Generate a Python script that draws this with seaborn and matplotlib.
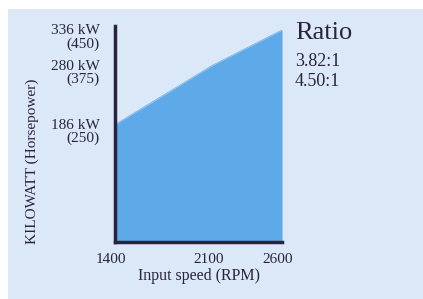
import matplotlib
matplotlib.use("Agg")
import matplotlib.pyplot as plt
import matplotlib.transforms as mtrans
import seaborn as sns
import pandas as pd

rpm = [1400, 2100, 2600]
kw = [186, 280, 336]
ytick_vals = [186, 280, 336]
ytick_labels = ["186 kW\n(250)", "280 kW\n(375)", "336 kW\n(450)"]
xtick_vals = [1400, 2100, 2600]
ratios = ["3.82:1", "4.50:1"]

sns.set_theme(style="white")
plt.rcParams['font.family'] = ['Liberation Serif', 'DejaVu Serif']

txt = "#2a2340"
bg = "#dbe8f8"
fillc = "#5ea9e8"

fig = plt.figure(figsize=(4.23, 2.99), dpi=100, facecolor="white")
bgax = fig.add_axes([8/423, 0, 1 - 8/423, 1 - 9/299])
bgax.set_facecolor(bg)
bgax.set_xticks([]); bgax.set_yticks([])
for s in bgax.spines.values():
    s.set_visible(False)
bgax.set_zorder(0)

ax = fig.add_axes([115/423, 1 - 242/299, (282 - 115)/423, (242 - 30)/299])
ax.set_facecolor("none")
ax.set_zorder(2)

df = pd.DataFrame({"rpm": rpm, "kw": kw})
sns.lineplot(data=df, x="rpm", y="kw", ax=ax, color=fillc, linewidth=0.5)
ax.fill_between(df["rpm"], 0, df["kw"], color=fillc, linewidth=0)

ax.set_xlim(1400, 2600)
ax.set_ylim(0, 336)
ax.set_xticks(xtick_vals)
ax.set_xticklabels([str(v) for v in xtick_vals], fontsize=11, color=txt)
ax.set_yticks(ytick_vals)
ax.set_yticklabels(ytick_labels, fontsize=11, color=txt, linespacing=1.0)
ax.tick_params(axis="both", length=0)
ax.tick_params(axis="y", pad=11)
ax.tick_params(axis="x", pad=8)

yoff = mtrans.ScaledTranslation(0, -6/100, fig.dpi_scale_trans)
for lab in ax.get_yticklabels():
    lab.set_transform(lab.get_transform() + yoff)
xoff = mtrans.ScaledTranslation(-4/100, 0, fig.dpi_scale_trans)
for lab in ax.get_xticklabels():
    lab.set_transform(lab.get_transform() + xoff)

for s in ["top", "right"]:
    ax.spines[s].set_visible(False)
for s in ["left", "bottom"]:
    ax.spines[s].set_color(txt)
    ax.spines[s].set_linewidth(2.5)
ax.spines["left"].set_bounds(0, 342)

ax.set_xlabel("Input speed (RPM)", fontsize=11.5, color=txt, labelpad=1)
ax.set_ylabel("")
fig.text(32/423, 1 - 161/299, "KILOWATT (Horsepower)", rotation=90, fontsize=11,
         color=txt, ha="center", va="center", zorder=3)

fig.text(295/423, 1 - 33/299, "Ratio", fontsize=19, color=txt, ha="left", va="center", zorder=3)
for i, r in enumerate(ratios):
    fig.text(295/423, 1 - (62 + 20*i)/299, r, fontsize=13, color=txt, ha="left",
             va="center", zorder=3)

fig.savefig("out.png", dpi=100, facecolor="white")
